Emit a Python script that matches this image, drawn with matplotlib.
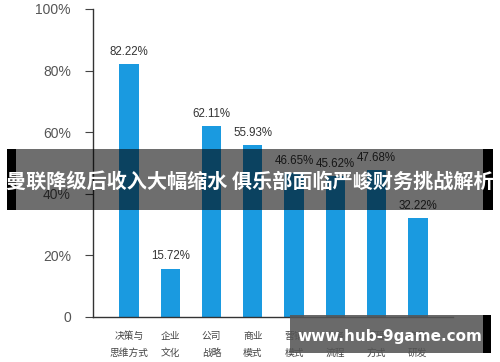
import matplotlib
matplotlib.use("Agg")
import matplotlib.pyplot as plt
import matplotlib.patches as patches

plt.rcParams['font.family'] = ['Noto Sans CJK SC', 'DejaVu Sans']

categories = ["决策与\n思维方式", "企业\n文化", "公司\n战略", "商业\n模式",
              "营销\n模式", "业务\n流程", "管理\n方式", "产品\n研发"]
values = [82.22, 15.72, 62.11, 55.93, 46.65, 45.62, 47.68, 32.22]
yticks = [0, 20, 40, 60, 80, 100]
yticklabels = ["0", "20%", "40%", "60%", "80%", "100%"]
title = "曼联降级后收入大幅缩水 俱乐部面临严峻财务挑战解析"
watermark = "www.hub-9game.com"

W, H = 500, 362
fig = plt.figure(figsize=(5, 3.62), dpi=100)
ax = fig.add_axes([93 / W, 1 - 317 / H, 360 / W, 308 / H])

x = list(range(len(values)))
bar_color = "#1a9ae0"
ax.bar(x, values, width=0.47, color=bar_color)
for xi, v in zip(x, values):
    ax.text(xi, v + 2, f"{v:.2f}%", ha="center", va="bottom",
            fontsize=8.3, color="#333333", family=["Liberation Sans", "DejaVu Sans"])

ax.set_xlim(-0.87, 7.85)
ax.set_ylim(0, 100)
ax.set_yticks(yticks)
ax.set_yticklabels(yticklabels, fontsize=10, color="#555555",
                   family=["Liberation Sans", "DejaVu Sans"])
ax.set_xticks(x)
ax.set_xticklabels(categories, fontsize=7, color="#444444", linespacing=1.9)
ax.tick_params(axis="x", length=0, pad=10)
ax.tick_params(axis="y", length=6, width=0.8, color="#444444", pad=10)
for s in ["top", "right"]:
    ax.spines[s].set_visible(False)
for s in ["left", "bottom"]:
    ax.spines[s].set_color("#333333")
    ax.spines[s].set_linewidth(1.0)

# title banner overlay
def fig_rect(x0, y0, x1, y1, **kw):
    fig.patches.append(patches.Rectangle((x0 / W, 1 - y1 / H), (x1 - x0) / W, (y1 - y0) / H,
                                         transform=fig.transFigure, **kw))

fig_rect(16, 149, 483, 210, facecolor="black", alpha=0.57, zorder=5)
fig_rect(7, 149, 16, 210, facecolor="black", zorder=5)
fig_rect(483, 149, 493, 210, facecolor="black", zorder=5)
fig.text(0.5, 1 - 181 / H, title, ha="center", va="center", color="white",
         fontsize=14.5, fontweight="bold", zorder=6)

# watermark box
fig_rect(290, 315, 483, 353, facecolor="#555555", alpha=0.88, zorder=5)
fig_rect(483, 315, 491, 353, facecolor="black", zorder=5)
fig.text(390 / W, 1 - 336 / H, watermark, ha="center", va="center", color="white",
         fontsize=11, fontweight="bold", zorder=6, family=["DejaVu Sans"])

fig.savefig("out.png", dpi=100)
